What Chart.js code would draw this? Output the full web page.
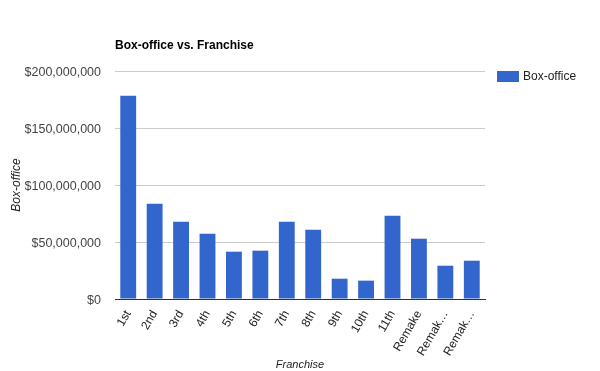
<!DOCTYPE html>
<html>
<head>
<meta charset="utf-8">
<script src="https://cdn.jsdelivr.net/npm/chart.js@4"></script>
<style>
  html, body { margin: 0; padding: 0; background: #fff; }
  #wrap { width: 600px; height: 371px; }
</style>
</head>
<body>
<div id="wrap"><canvas id="chart" width="600" height="371"></canvas></div>
<script>
const categories = ['1st', '2nd', '3rd', '4th', '5th', '6th', '7th', '8th', '9th', '10th', '11th', 'Remake', 'Remak\u2026', 'Remak\u2026'];
const boxOffice = [178300000, 83600000, 67800000, 57300000, 41500000, 42400000, 67800000, 60800000, 17800000, 16100000, 73100000, 52900000, 29200000, 33600000];
const yTicks = [0, 50000000, 100000000, 150000000, 200000000];

const TITLE = 'Box-office vs. Franchise';
const SERIES = 'Box-office';
const BLUE = '#3366cc';
const FONT = 'Arial, "Liberation Sans", sans-serif';

// draws the title top-left of the plot and the legend on the right
const extras = {
  id: 'extras',
  afterDraw(chart) {
    const ctx = chart.ctx;
    const area = chart.chartArea;
    ctx.save();
    ctx.fillStyle = '#000';
    ctx.font = 'bold 12px ' + FONT;
    ctx.textBaseline = 'middle';
    ctx.textAlign = 'left';
    ctx.fillText(TITLE, area.left, 46);

    ctx.fillStyle = BLUE;
    ctx.fillRect(497, 71, 22, 11);
    ctx.fillStyle = '#222';
    ctx.font = '12px ' + FONT;
    ctx.fillText(SERIES, 523, 76.5);
    ctx.restore();
  }
};

const ctx = document.getElementById('chart').getContext('2d');
new Chart(ctx, {
  type: 'bar',
  data: {
    labels: categories,
    datasets: [{
      label: SERIES,
      data: boxOffice,
      backgroundColor: BLUE,
      borderWidth: 0,
      barPercentage: 0.6,
      categoryPercentage: 1
    }]
  },
  options: {
    responsive: false,
    animation: false,
    layout: { padding: { left: 0, right: 115, top: 71, bottom: 0 } },
    plugins: {
      legend: { display: false },
      title: { display: false },
      tooltip: { enabled: false }
    },
    scales: {
      y: {
        min: 0,
        max: 200000000,
        afterBuildTicks(scale) {
          scale.ticks = yTicks.map(v => ({ value: v }));
        },
        afterFit(scale) { scale.width = 115; },
        grid: { color: '#cccccc', drawTicks: false },
        border: { display: false },
        ticks: {
          padding: 14,
          labelOffset: 1.5,
          color: '#444',
          font: { family: FONT, size: 12.5 },
          callback: v => '$' + Number(v).toLocaleString('en-US')
        },
        title: {
          display: true,
          text: 'Box-office',
          color: '#222',
          padding: { top: 9, bottom: 0 },
          font: { family: FONT, size: 12, style: 'italic' }
        }
      },
      x: {
        afterFit(scale) { scale.height = 72; },
        grid: { display: false, drawTicks: false },
        border: { display: true, color: '#333', width: 1 },
        ticks: {
          autoSkip: false,
          maxRotation: 60,
          minRotation: 60,
          padding: 9,
          color: '#222',
          font: { family: FONT, size: 12 }
        },
        title: {
          display: true,
          text: 'Franchise',
          color: '#222',
          padding: { top: 0, bottom: 1 },
          font: { family: FONT, size: 11, style: 'italic', lineHeight: 1 }
        }
      }
    }
  },
  plugins: [extras]
});
</script>
</body>
</html>
